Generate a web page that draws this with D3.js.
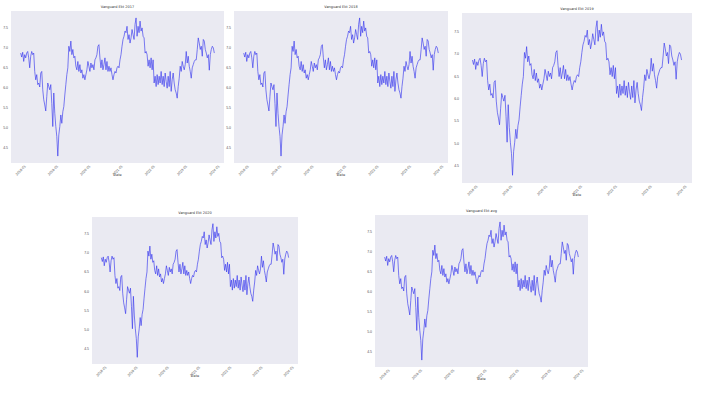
<!DOCTYPE html>
<html>
<head>
<meta charset="utf-8">
<script src="https://cdn.jsdelivr.net/npm/d3@7"></script>
<style>
  body { margin: 0; background: #fff; }
  svg { display: block; font-family: "DejaVu Sans", sans-serif; }
</style>
</head>
<body>
<svg id="chart" width="702" height="399"></svg>
<script>
// series (same series drawn in each panel)
const prices = [
  6.86, 6.76, 6.88, 6.65, 6.82, 6.74, 6.86, 6.90, 6.74, 6.49, 6.78, 6.90, 6.82, 6.86,
  6.40, 6.19, 6.32, 6.07, 6.11, 6.01, 6.36, 6.40, 5.94, 5.69, 5.56, 5.41, 5.77, 6.11,
  6.02, 5.94, 6.07, 5.60, 5.02, 5.86, 5.35, 5.02, 4.77, 4.28, 4.81, 5.02, 5.31, 5.10,
  5.39, 5.52, 5.81, 6.07, 6.32, 6.49, 7.03, 6.90, 7.16, 6.82, 6.95, 6.74, 6.78, 6.53,
  6.44, 6.65, 6.40, 6.57, 6.36, 6.44, 6.23, 6.32, 6.19, 6.32, 6.44, 6.65, 6.53, 6.40,
  6.61, 6.49, 6.57, 6.44, 6.69, 6.74, 6.82, 7.03, 7.07, 6.74, 6.49, 6.69, 6.44, 6.57,
  6.74, 6.44, 6.65, 6.40, 6.53, 6.40, 6.49, 6.32, 6.19, 6.32, 6.40, 6.36, 6.49, 6.53,
  6.49, 6.69, 6.82, 7.03, 7.20, 7.28, 7.41, 7.37, 7.53, 7.20, 7.32, 7.11, 7.24, 7.45,
  7.32, 7.20, 7.58, 7.74, 7.28, 7.53, 7.37, 7.66, 7.41, 7.49, 7.28, 7.24, 6.86, 6.90,
  6.82, 6.53, 6.69, 6.49, 6.74, 6.44, 6.69, 6.11, 6.28, 6.02, 6.32, 6.07, 6.28, 6.11,
  6.40, 6.07, 6.28, 6.02, 6.36, 6.15, 5.98, 6.28, 6.02, 6.40, 5.90, 6.19, 6.36, 6.11,
  5.94, 5.86, 5.73, 6.02, 6.23, 6.53, 6.40, 6.65, 6.53, 6.44, 6.57, 6.90, 6.61, 6.78,
  6.53, 6.40, 6.23, 6.49, 6.57, 6.65, 6.69, 6.69, 6.95, 7.24, 7.11, 6.95, 7.03, 6.78,
  7.20, 7.16, 6.95, 6.86, 6.74, 6.82, 6.43, 6.82, 6.95, 7.03, 6.99, 6.86
];
const startDate = new Date(2018, 0, 1);
const endDate = new Date(2024, 0, 1);
const panelTitles = ["Vanguard Ekt 2017", "Vanguard Ekt 2018", "Vanguard Ekt 2019", "Vanguard Ekt 2020", "Vanguard Ekt avg"];
const yTicks = [4.5, 5.0, 5.5, 6.0, 6.5, 7.0, 7.5];
const xLabel = "Date";

// panel boxes in page pixels: left, top, right, bottom
const panels = [
  { l: 11, t: 11, r: 224, b: 163 },
  { l: 234, t: 11, r: 448, b: 163 },
  { l: 462, t: 13, r: 692, b: 183 },
  { l: 92, t: 217, r: 298, b: 364 },
  { l: 375, t: 215, r: 588, b: 367 }
];

const svg = d3.select("#chart");
const n = prices.length;
const span = endDate - startDate;
const dates = prices.map((_, i) => new Date(+startDate + span * i / (n - 1)));
const data = prices.map((v, i) => ({ date: dates[i], value: v }));

// matplotlib-like 5% margins
const yMin = d3.min(prices), yMax = d3.max(prices);
const yPad = (yMax - yMin) * 0.05;
const xPad = span * 0.05;

panels.forEach((p, k) => {
  const w = p.r - p.l, h = p.b - p.t;
  const g = svg.append("g").attr("transform", `translate(${p.l},${p.t})`);

  const x = d3.scaleTime()
    .domain([new Date(+startDate - xPad), new Date(+endDate + xPad)])
    .range([0, w]);
  const y = d3.scaleLinear()
    .domain([yMin - yPad, yMax + yPad])
    .range([h, 0]);

  g.append("rect")
    .attr("width", w)
    .attr("height", h)
    .attr("fill", "#eaeaf2");

  g.append("g")
    .attr("class", "y axis")
    .call(d3.axisLeft(y).tickValues(yTicks).tickSize(0).tickPadding(3).tickFormat(d3.format(".1f")))
    .call(a => a.select(".domain").remove())
    .selectAll("text")
    .style("font-size", "3.5px")
    .attr("fill", "#555");

  g.append("g")
    .attr("class", "x axis")
    .attr("transform", `translate(0,${h})`)
    .call(d3.axisBottom(x).ticks(d3.timeYear.every(1)).tickSize(0).tickPadding(3).tickFormat(d3.timeFormat("%Y-%m")))
    .call(a => a.select(".domain").remove())
    .selectAll("text")
    .style("font-size", "3.5px")
    .attr("fill", "#555")
    .attr("text-anchor", "end")
    .attr("dx", "1")
    .attr("dy", "3")
    .attr("transform", "rotate(-45)");

  const line = d3.line()
    .x(d => x(d.date))
    .y(d => y(d.value));

  g.append("path")
    .datum(data)
    .attr("fill", "none")
    .attr("stroke", "#3535ee")
    .attr("stroke-opacity", 0.8)
    .attr("stroke-width", 0.8)
    .attr("d", line);

  g.append("text")
    .attr("x", w / 2)
    .attr("y", -3)
    .attr("text-anchor", "middle")
    .style("font-size", "3.5px")
    .attr("fill", "#333")
    .text(panelTitles[k]);

  g.append("text")
    .attr("x", w / 2)
    .attr("y", h + 13)
    .attr("text-anchor", "middle")
    .style("font-size", "3.5px")
    .attr("fill", "#444")
    .text(xLabel);
});
</script>
</body>
</html>
